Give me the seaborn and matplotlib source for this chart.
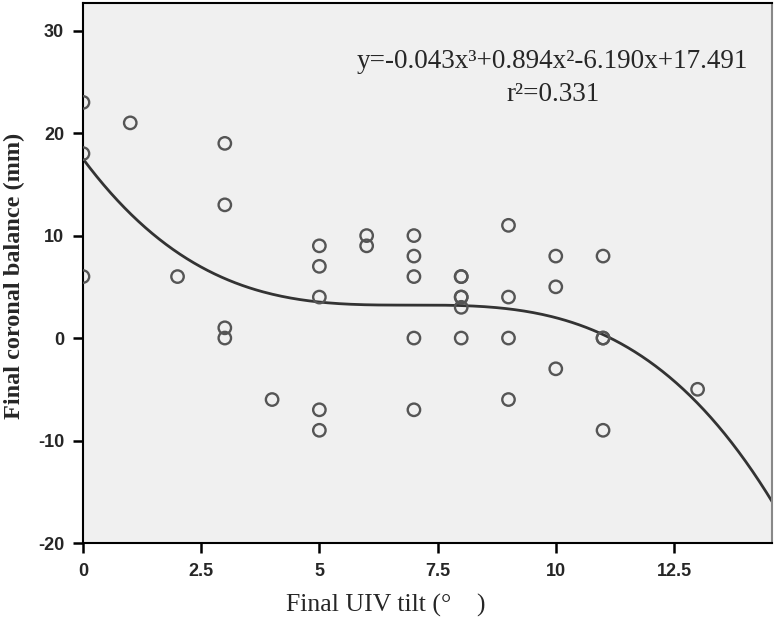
import numpy as np
import pandas as pd
import seaborn as sns
import matplotlib.pyplot as plt

# --- data ---
uiv_tilt = [0, 0, 0, 1, 2, 3, 3, 3, 3, 4,
            5, 5, 5, 5, 5, 6, 6,
            7, 7, 7, 7, 7,
            8, 8, 8, 8, 8, 8,
            9, 9, 9, 9,
            10, 10, 10,
            11, 11, 11, 11, 13]
coronal_balance = [23, 18, 6, 21, 6, 19, 13, 1, 0, -6,
                   9, 7, 4, -7, -9, 10, 9,
                   10, 8, 6, 0, -7,
                   6, 6, 4, 4, 3, 0,
                   11, 4, 0, -6,
                   8, 5, -3,
                   8, 0, 0, -9, -5]
fit_coefs = [-0.043, 0.894, -6.190, 17.491]  # cubic fit from the chart
r_squared = 0.331

x_ticks = [0, 2.5, 5, 7.5, 10, 12.5]
x_tick_labels = ["0", "2.5", "5", "7.5", "10", "12.5"]
y_ticks = [30, 20, 10, 0, -10, -20]

df = pd.DataFrame({"tilt": uiv_tilt, "balance": coronal_balance})
x_fit = np.linspace(0, 14.6, 300)
fit_df = pd.DataFrame({"tilt": x_fit, "balance": np.polyval(fit_coefs, x_fit)})

sns.set_style("ticks")
plt.rcParams["axes.unicode_minus"] = False
fig = plt.figure(figsize=(7.74, 6.21), dpi=100)
ax = fig.add_axes([0.1072, 0.1256, 0.890, 0.8696])
ax.set_facecolor("#f0f0f0")

sns.scatterplot(data=df, x="tilt", y="balance", ax=ax, s=80,
                facecolor="none", edgecolor="#555555", linewidth=1.7, zorder=3)
sns.lineplot(data=fit_df, x="tilt", y="balance", ax=ax, color="#333333",
             linewidth=2, zorder=2)

ax.set_xlim(0, 14.57)
ax.set_ylim(-20, 32.7)
ax.set_xticks(x_ticks)
ax.set_xticklabels(x_tick_labels)
ax.set_yticks(y_ticks)
ax.set_yticklabels([str(v) for v in y_ticks])
for lab in ax.get_xticklabels() + ax.get_yticklabels():
    lab.set_family("Liberation Sans")
    lab.set_fontsize(13)
    lab.set_fontweight("bold")
ax.tick_params(direction="out", length=7.5, width=1.8, color="black", pad=6)
ax.tick_params(axis="x", pad=7)

for sp in ax.spines.values():
    sp.set_color("black")
    sp.set_linewidth(1.5)
ax.spines["right"].set_color("#888888")

serif = "Liberation Serif"
ax.set_xlabel("Final UIV tilt (°\u2003)", family=serif, fontsize=18.5, va="center")
ax.xaxis.set_label_coords(0.44, -0.115)
ax.set_ylabel("Final coronal balance (mm)", family=serif, fontsize=17.5,
              fontweight="bold", va="center")
ax.yaxis.set_label_coords(-0.100, 0.495)

ax.text(0.682, 0.891, "y=-0.043x\u00b3+0.894x\u00b2-6.190x+17.491",
        transform=ax.transAxes, family=serif, fontsize=19.5, ha="center", va="center")
ax.text(0.682, 0.830, f"r\u00b2={r_squared:.3f}", transform=ax.transAxes,
        family=serif, fontsize=19.5, ha="center", va="center")

fig.savefig("out.png", dpi=100)
